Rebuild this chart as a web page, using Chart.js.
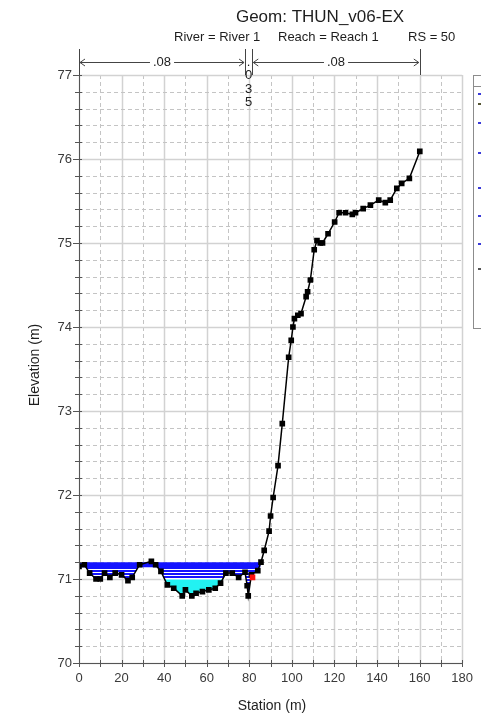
<!DOCTYPE html>
<html lang="en">
<head>
<meta charset="utf-8">
<title>Geom: THUN_v06-EX</title>
<script src="https://cdn.jsdelivr.net/npm/chart.js@4.4.1/dist/chart.umd.min.js"></script>
<style>
    html, body { margin: 0; padding: 0; background: #ffffff; }
    #wrap { position: relative; width: 481px; height: 715px; overflow: hidden; }
</style>
</head>
<body>
<div id="wrap">
    <canvas id="secao"></canvas>
</div>
<script>
// terreno (estação, cota)
const estacoes = [0, 2.5, 5, 8, 10, 12, 14.5, 17, 20, 23, 25, 28.5, 34, 36, 38.5, 41.5, 44.5, 48.5, 50, 53,
    55, 58, 61, 64, 66.5, 69, 72, 75, 78, 79, 79.5, 81, 84, 85.5, 87, 89.3, 90, 91.2, 93.5, 95.5,
    98.5, 99.7, 100.5, 101.2, 102.8, 104.3, 106.7, 107.4, 108.7, 110.5, 111.8, 113.3, 114.4, 117, 120.1, 122.2,
    125.2, 128.4, 129.9, 133.5, 136.9, 140.8, 143.9, 146.2, 149.3, 151.6, 155.2, 160.1];
const cotas = [71.15, 71.17, 71.07, 71.0, 71.0, 71.07, 71.02, 71.07, 71.05, 70.98, 71.02, 71.17, 71.21, 71.17, 71.09, 70.93, 70.89, 70.8, 70.87, 70.8,
    70.83, 70.85, 70.87, 70.89, 70.95, 71.07, 71.07, 71.02, 71.08, 70.92, 70.8, 71.05, 71.1, 71.2, 71.34, 71.57, 71.75, 71.97, 72.35, 72.85,
    73.64, 73.84, 74.0, 74.1, 74.14, 74.16, 74.36, 74.42, 74.56, 74.92, 75.03, 75.0, 75.0, 75.11, 75.25, 75.36,
    75.36, 75.34, 75.36, 75.41, 75.45, 75.51, 75.48, 75.51, 75.65, 75.71, 75.77, 76.09];

// nível d'água
const estacoesAgua = [0, 85.2];
const cotasAgua = [71.17, 71.17];

// faixa mais funda (ciano)
const estacoesFundo = [38.5, 69];
const cotasFundo = [71.0, 71.0];

// marcador da margem
const estacoesMargem = [81.5];
const cotasMargem = [71.02];

// Manning
const margens = [78, 81.4];
const fimSecao = 160.1;
const valoresN = [".08", ".035", ".08"];

// eixos
const limitesX = [0, 180];
const limitesY = [70, 77];
const passoX = 10;
const passoY = 0.2;
const passoMaiorX = 20;
const passoMaiorY = 1;

function pontos(xs, ys) {
    return xs.map((x, i) => ({ x: x, y: ys[i] }));
}

function ehMaior(valor, passo) {
    const r = valor / passo;
    return Math.abs(r - Math.round(r)) < 1e-6;
}

function criarHachura() {
    const c = document.createElement("canvas");
    c.width = 4;
    c.height = 3;
    const g = c.getContext("2d");
    g.fillStyle = "#1414ff";
    g.fillRect(0, 0, 4, 2);
    g.fillStyle = "#ffffff";
    g.fillRect(0, 2, 4, 1);
    return g.createPattern(c, "repeat");
}

const FONTE = "'Liberation Sans', Arial, sans-serif";

// grade, eixos e marcações
const grade = {
    id: "grade",
    beforeDatasetsDraw(chart) {
        const { ctx, chartArea: a, scales: { x, y } } = chart;
        const estilo = maior => {
            if (maior) {
                ctx.strokeStyle = "#d2d2d2";
                ctx.lineWidth = 1.5;
                ctx.setLineDash([]);
            } else {
                ctx.strokeStyle = "#c4c4c4";
                ctx.lineWidth = 1;
                ctx.setLineDash([4, 3]);
            }
        };
        ctx.save();
        x.ticks.forEach(t => {
            const px = Math.round(x.getPixelForValue(t.value)) + 0.5;
            estilo(ehMaior(t.value, passoMaiorX));
            ctx.beginPath();
            ctx.moveTo(px, a.top);
            ctx.lineTo(px, a.bottom);
            ctx.stroke();
        });
        y.ticks.forEach(t => {
            const py = Math.round(y.getPixelForValue(t.value)) + 0.5;
            estilo(ehMaior(t.value, passoMaiorY));
            ctx.beginPath();
            ctx.moveTo(a.left, py);
            ctx.lineTo(a.right, py);
            ctx.stroke();
        });
        ctx.restore();
    },
    afterDatasetsDraw(chart) {
        const { ctx, chartArea: a, scales: { x, y } } = chart;
        ctx.save();
        ctx.strokeStyle = "#555555";
        ctx.lineWidth = 1;
        ctx.beginPath();
        ctx.moveTo(a.left + 0.5, a.top);
        ctx.lineTo(a.left + 0.5, a.bottom + 0.5);
        ctx.lineTo(a.right, a.bottom + 0.5);
        ctx.stroke();
        y.ticks.forEach(t => {
            const py = Math.round(y.getPixelForValue(t.value)) + 0.5;
            const len = ehMaior(t.value, passoMaiorY) ? 6 : 4;
            ctx.beginPath();
            ctx.moveTo(a.left - len, py);
            ctx.lineTo(a.left + 3, py);
            ctx.stroke();
        });
        x.ticks.forEach(t => {
            const px = Math.round(x.getPixelForValue(t.value)) + 0.5;
            ctx.beginPath();
            ctx.moveTo(px, a.bottom - 3);
            ctx.lineTo(px, a.bottom + 4);
            ctx.stroke();
        });
        ctx.restore();
    },
    afterDraw(chart) {
        const { ctx, chartArea: a, scales: { x } } = chart;
        ctx.save();
        ctx.fillStyle = "#1e1e1e";
        ctx.textBaseline = "middle";

        // títulos
        ctx.textAlign = "center";
        ctx.font = "17px " + FONTE;
        ctx.fillText("Geom: THUN_v06-EX", 320, 17);
        ctx.font = "13px " + FONTE;
        ctx.textAlign = "left";
        ctx.fillText("River = River 1", 174, 37);
        ctx.fillText("Reach = Reach 1", 278, 37);
        ctx.fillText("RS = 50", 408, 37);

        ctx.font = "14px " + FONTE;
        ctx.textAlign = "center";
        ctx.fillText("Station (m)", 272, 706);
        ctx.save();
        ctx.translate(35, 365);
        ctx.rotate(-Math.PI / 2);
        ctx.fillText("Elevation (m)", 0, 0);
        ctx.restore();

        // faixas de Manning
        const xs = [x.getPixelForValue(0), x.getPixelForValue(margens[0]),
            x.getPixelForValue(margens[1]), x.getPixelForValue(fimSecao)];
        ctx.strokeStyle = "#444444";
        ctx.lineWidth = 1;
        xs.forEach(px => {
            const p = Math.round(px) + 0.5;
            ctx.beginPath();
            ctx.moveTo(p, 49);
            ctx.lineTo(p, a.top);
            ctx.stroke();
        });
        ctx.font = "13px " + FONTE;
        const seta = (x0, x1, texto) => {
            const yy = 62.5;
            const meio = (x0 + x1) / 2;
            const w = ctx.measureText(texto).width / 2 + 3;
            ctx.beginPath();
            ctx.moveTo(x0 + 1, yy);
            ctx.lineTo(meio - w, yy);
            ctx.moveTo(meio + w, yy);
            ctx.lineTo(x1 - 1, yy);
            ctx.moveTo(x0 + 6, yy - 3.5);
            ctx.lineTo(x0 + 1, yy);
            ctx.lineTo(x0 + 6, yy + 3.5);
            ctx.moveTo(x1 - 6, yy - 3.5);
            ctx.lineTo(x1 - 1, yy);
            ctx.lineTo(x1 - 6, yy + 3.5);
            ctx.stroke();
            ctx.fillText(texto, meio, yy);
        };
        seta(xs[0], xs[1], valoresN[0]);
        seta(xs[2], xs[3], valoresN[2]);
        const xc = (xs[1] + xs[2]) / 2;
        valoresN[1].split("").forEach((ch, i) => {
            ctx.fillText(ch, xc, 62 + i * 13.5);
        });

        // caixa da legenda
        ctx.strokeStyle = "#8c8c8c";
        ctx.fillStyle = "#ffffff";
        ctx.fillRect(473, 75, 40, 254);
        ctx.strokeRect(473.5, 75.5, 40, 253);
        ctx.beginPath();
        ctx.moveTo(473, 86.5);
        ctx.lineTo(481, 86.5);
        ctx.stroke();
        const marcas = [[93, "#3a3ad8"], [103, "#555533"], [122, "#3a3ad8"], [152, "#3a3ad8"],
            [187, "#3a3ad8"], [215, "#3a3ad8"], [243, "#3a3ad8"], [268, "#555555"]];
        marcas.forEach(([yy, cor]) => {
            ctx.fillStyle = cor;
            ctx.fillRect(478, yy, 3, 2);
        });
        ctx.restore();
    }
};

document.addEventListener("DOMContentLoaded", () => {
    const secao = document.getElementById("secao");
    const hachura = criarHachura();

    new Chart(secao, {
        type: "line",
        data: {
            datasets: [
                {
                    label: "Bank Sta",
                    data: pontos(estacoesMargem, cotasMargem),
                    showLine: false,
                    pointStyle: "rect",
                    pointRadius: 4,
                    backgroundColor: "#ff1010",
                    borderColor: "#ff1010",
                    borderWidth: 0
                },
                {
                    label: "Ground",
                    data: pontos(estacoes, cotas),
                    borderColor: "#000000",
                    borderWidth: 1.5,
                    pointStyle: "rect",
                    pointRadius: 4,
                    pointBackgroundColor: "#000000",
                    pointBorderWidth: 0,
                    tension: 0,
                    fill: false
                },
                {
                    label: "Fundo",
                    data: pontos(estacoesFundo, cotasFundo),
                    borderColor: "#ffffff",
                    borderWidth: 1,
                    pointRadius: 0,
                    fill: { target: 1, above: "#22f2f2", below: "rgba(0,0,0,0)" }
                },
                {
                    label: "WS",
                    data: pontos(estacoesAgua, cotasAgua),
                    borderColor: "#1414ff",
                    borderWidth: 5,
                    pointRadius: 0,
                    fill: { target: 1, above: hachura, below: "rgba(0,0,0,0)" }
                }
            ]
        },
        options: {
            responsive: true,
            maintainAspectRatio: false,
            animation: false,
            layout: {
                padding: { top: 75, right: 15, left: 0, bottom: 0 }
            },
            plugins: {
                legend: { display: false },
                tooltip: { enabled: false }
            },
            scales: {
                x: {
                    type: "linear",
                    min: limitesX[0],
                    max: limitesX[1],
                    afterFit(scale) { scale.height = 52; },
                    grid: { display: false, drawTicks: false },
                    border: { display: false },
                    ticks: {
                        stepSize: passoX,
                        maxTicksLimit: 100,
                        autoSkip: false,
                        maxRotation: 0,
                        padding: 8,
                        color: "#3a3a3a",
                        font: { size: 13, family: FONTE },
                        callback: v => ehMaior(v, passoMaiorX) ? String(Math.round(v)) : ""
                    }
                },
                y: {
                    type: "linear",
                    min: limitesY[0],
                    max: limitesY[1],
                    afterFit(scale) { scale.width = 79; },
                    grid: { display: false, drawTicks: false },
                    border: { display: false },
                    ticks: {
                        stepSize: passoY,
                        maxTicksLimit: 100,
                        autoSkip: false,
                        padding: 7,
                        color: "#3a3a3a",
                        font: { size: 13, family: FONTE },
                        callback: v => ehMaior(v, passoMaiorY) ? String(Math.round(v)) : ""
                    }
                }
            }
        },
        plugins: [grade]
    });
});
</script>
</body>
</html>
